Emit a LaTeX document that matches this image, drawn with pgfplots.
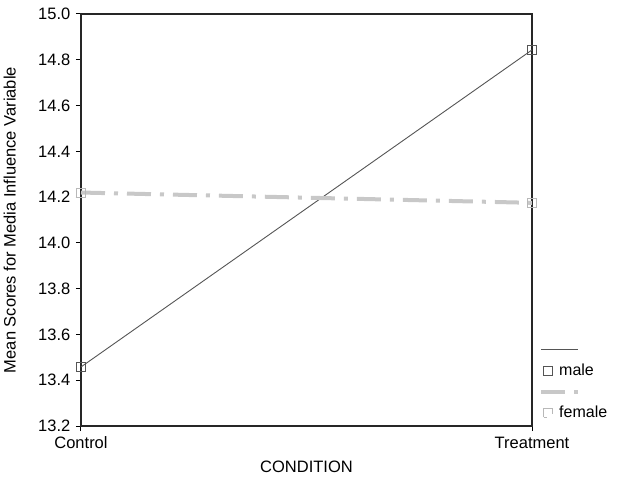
\documentclass[border=0pt]{standalone}
\usepackage{pgfplots}
\pgfplotsset{compat=1.18}
\usepackage{fontspec}
\setmainfont{Liberation Sans}
\definecolor{maleline}{HTML}{555555}
\definecolor{femline}{HTML}{C8C8C8}
\definecolor{femmark}{HTML}{B8B8B8}
\begin{document}
\fontsize{16.5}{19}\selectfont
\begin{tikzpicture}
\begin{axis}[
  scale only axis,
  width=451pt, height=412pt,
  xmin=0, xmax=1, ymin=13.2, ymax=15.0,
  xtick={0,1}, xticklabels={Control,Treatment},
  ytick={13.2,13.4,...,15.01},
  yticklabel style={/pgf/number format/.cd, fixed, fixed zerofill, precision=1},
  /pgf/number format/assume math mode=true,
  tick align=outside, major tick length=5pt,
  xtick pos=bottom, ytick pos=left,
  axis line style={line width=1.2pt, black!85},
  tick style={line width=1pt, black},
  xlabel={CONDITION},
  ylabel={Mean Scores for Media Influence Variable},
  xlabel style={at={(axis description cs:0.5,-0.0995)}, anchor=center},
  ylabel style={at={(axis description cs:-0.158,0.5)}, anchor=center},
  legend style={at={(axis description cs:1,0)}, anchor=south west, xshift=8pt, yshift=2pt, draw=none, fill=none, row sep=24pt, font=\fontsize{16}{19}\selectfont,
    /tikz/every odd column/.append style={column sep=4pt}},
  legend cell align=left,
  clip=false,
]
\addplot[color=maleline, line width=0.9pt, mark=square, mark size=4.5pt, mark options={solid, line width=1pt, fill=white},
  legend image code/.code={
    \draw[maleline, line width=1pt, overlay] (-7pt,21pt) -- (30pt,21pt);
    \draw[maleline, line width=1pt, fill=white] (-4.5pt,-4.5pt) rectangle (4.5pt,4.5pt);
  }]
  coordinates {(0,13.458) (1,14.843)};
\addlegendentry{male}
\addplot[color=femline, line width=4pt, dash pattern=on 24pt off 9pt on 4pt off 9pt, mark=square, mark size=4.5pt, mark options={solid, line width=1pt, draw=femmark, fill=white},
  legend image code/.code={
    \draw[femline, line width=4pt, dash pattern=on 24pt off 9pt on 4pt off 9pt, overlay] (-7pt,21pt) -- (30pt,21pt);
    \draw[femmark, line width=1pt, fill=white] (-4.5pt,-4.5pt) rectangle (4.5pt,4.5pt);
  }]
  coordinates {(0,14.22) (1,14.175)};
\addlegendentry{female}
\end{axis}
\pgfresetboundingbox
\path (current axis.south west) ++(-81pt,-53pt) rectangle ++(620pt,479pt);
\end{tikzpicture}
\end{document}
